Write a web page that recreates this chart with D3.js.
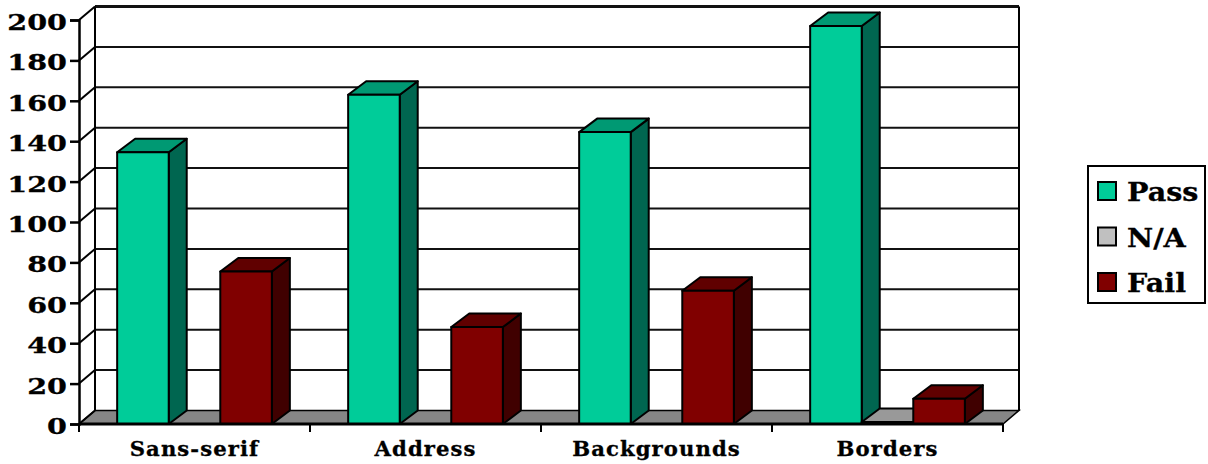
<!DOCTYPE html>
<html><head><meta charset="utf-8">
<script src="https://cdn.jsdelivr.net/npm/d3@7"></script>
<style>html,body{margin:0;background:#fff}svg{display:block}text{font-family:"DejaVu Serif",serif;font-weight:700;fill:#000;stroke:#000;stroke-width:.3px}</style>
</head><body><svg id="c" width="1208" height="464"></svg>
<script>
const categories=["Sans-serif","Address","Backgrounds","Borders"];
const seriesNames=["Pass","N/A","Fail"];
const passValues=[134.5,163,144.5,197];
const naValues=[0,0,0,1];
const failValues=[75.5,48,66,12.5];
const yTicks=[0,20,40,60,80,100,120,140,160,180,200];
const values=[passValues,naValues,failValues];
const front=["#00CC99","#C0C0C0","#800000"],top_=["#009973","#999999","#600000"],side=["#006650","#606060","#400000"];
const svg=d3.select("#c");
const L=79,R=1003,Y0=424,Y1=20,wx=16,wy=13.5,bx=18,by=13.5;
const x=d3.scaleBand().domain(categories).range([L,R]);
const inner=d3.scaleBand().domain(d3.range(3)).range([0,x.bandwidth()]).paddingOuter(0.74).paddingInner(0).align(0.5);
const y=d3.scaleLinear().domain([0,200]).range([Y0,Y1]);
const poly=p=>d3.line()(p)+"Z";
// floor
svg.append("path").attr("d",poly([[L,Y0],[L+wx,Y0-wy],[R+wx,Y0-wy],[R,Y0]])).attr("fill","#868686").attr("stroke","#000").attr("stroke-width",1.5);
// grid and walls
const g=svg.append("g");
yTicks.forEach(t=>{
  const yy=y(t);
  if(t>0)g.append("line").attr("x1",L+wx).attr("x2",R+wx).attr("y1",yy-wy).attr("y2",yy-wy).attr("stroke","#111").attr("stroke-width",t==200?3:2);
  g.append("line").attr("x1",L).attr("x2",L+wx).attr("y1",yy).attr("y2",yy-wy).attr("stroke","#000").attr("stroke-width",2);
});
[L+wx,R+wx].forEach(v=>g.append("line").attr("x1",v).attr("x2",v).attr("y1",Y1-wy).attr("y2",Y0-wy).attr("stroke","#000").attr("stroke-width",2));
// bars
categories.forEach((c,i)=>values.forEach((vals,s)=>{
  const v=vals[i]; if(!v)return;
  const x0=x(c)+inner(s),x1=x0+inner.bandwidth(),yt=y(v);
  const bar=svg.append("g").attr("stroke","#000").attr("stroke-width",2).attr("stroke-linejoin","round");
  bar.append("path").attr("d",poly([[x1,Y0],[x1+bx,Y0-by],[x1+bx,yt-by],[x1,yt]])).attr("fill",side[s]);
  bar.append("path").attr("d",poly([[x0,yt],[x0+bx,yt-by],[x1+bx,yt-by],[x1,yt]])).attr("fill",top_[s]);
  bar.append("rect").attr("x",x0).attr("y",yt).attr("width",x1-x0).attr("height",Y0-yt).attr("fill",front[s]);
}));
// axes
const ya=svg.append("g").attr("transform",`translate(${L},0)`).call(d3.axisLeft(y).tickValues(yTicks).tickSize(9).tickPadding(0));
ya.selectAll(".domain,line").attr("stroke","#000").attr("stroke-width",2.5);
ya.selectAll("text").remove();
yTicks.forEach(t=>svg.append("text").attr("transform",`translate(67,${y(t)+10}) scale(1.3,1)`).attr("text-anchor","end").attr("font-size",22).text(t));
const xa=svg.append("g").attr("transform",`translate(0,${Y0})`).call(d3.axisBottom(x).tickSize(0).tickFormat(""));
xa.select(".domain").remove();
svg.append("line").attr("x1",L).attr("x2",R).attr("y1",Y0).attr("y2",Y0).attr("stroke","#000").attr("stroke-width",3);
d3.range(5).forEach(i=>{const v=L+i*x.step();svg.append("line").attr("x1",v).attr("x2",v).attr("y1",Y0).attr("y2",Y0+8).attr("stroke","#000").attr("stroke-width",2)});
categories.forEach(c=>svg.append("text").attr("transform",`translate(${x(c)+x.bandwidth()/2},456) scale(1.06,1)`).attr("text-anchor","middle").attr("font-size",20).attr("letter-spacing",1).text(c));
// legend
const lg=svg.append("g");
lg.append("rect").attr("x",1088).attr("y",166).attr("width",117).attr("height",137).attr("fill","#fff").attr("stroke","#000").attr("stroke-width",2);
const ly=d3.scalePoint().domain(seriesNames).range([191,282]);
seriesNames.forEach((n,s)=>{
  lg.append("rect").attr("x",1098).attr("y",ly(n)-9).attr("width",18).attr("height",18).attr("fill",front[s]).attr("stroke","#000").attr("stroke-width",2);
  lg.append("text").attr("transform",`translate(1127,${ly(n)+10}) scale(1.1,1)`).attr("font-size",26).text(n);
});
</script></body></html>
